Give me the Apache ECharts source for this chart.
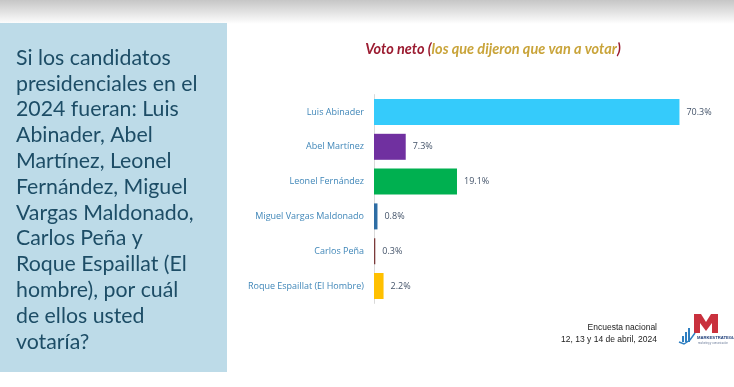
<!DOCTYPE html>
<html>
<head>
<meta charset="utf-8">
<script src="https://cdn.jsdelivr.net/npm/echarts@6/dist/echarts.min.js"></script>
<style>
html,body{margin:0;padding:0;background:#fff;}
#chart{width:734px;height:387px;}
</style>
</head>
<body>
<div id="chart"></div>
<script>
var categories = ['Luis Abinader','Abel Martínez','Leonel Fernández','Miguel Vargas Maldonado','Carlos Peña','Roque Espaillat (El Hombre)'];
var values = [70.3, 7.3, 19.1, 0.8, 0.3, 2.2];
var barColors = ['#35cbfb','#7030a0','#00b050','#2e6da4','#7b3b3b','#ffc000'];
var questionLines = ['Si los candidatos','presidenciales en el','2024 fueran: Luis','Abinader, Abel','Martínez, Leonel','Fernández, Miguel','Vargas Maldonado,','Carlos Peña y','Roque Espaillat (El','hombre), por cuál','de ellos usted','votaría?'];
var footerLines = ['Encuesta nacional','12, 13 y 14 de abril, 2024'];

var chart = echarts.init(document.getElementById('chart'), null, {renderer:'canvas'});

var graphics = [
  {type:'rect', shape:{x:0,y:0,width:734,height:24}, z:-1,
   style:{fill:new echarts.graphic.LinearGradient(0,0,0,1,[{offset:0,color:'#c6c6c6'},{offset:1,color:'#ffffff'}])}},
  {type:'rect', shape:{x:0,y:23,width:227,height:349}, style:{fill:'#bddbe8'}, z:-1},
  {type:'text', left:16, top:45, style:{
    text: questionLines.join('\n'), font:'21.3px Lato', fill:'#1d4d66', lineHeight:25.8}},
  {type:'text', x:657, y:328, style:{text:footerLines[0], font:'8.5px "Liberation Sans"', fill:'#222', textAlign:'right', textVerticalAlign:'middle'}},
  {type:'text', x:657, y:340, style:{text:footerLines[1], font:'8.5px "Liberation Sans"', fill:'#222', textAlign:'right', textVerticalAlign:'middle'}},
  // logo M
  {type:'polygon', shape:{points:[[694,314],[701,314],[706,322],[711,314],[718,314],[718,333],[712,333],[712,323],[706,331],[700,323],[700,333],[694,333]]}, style:{fill:'#c9313d'}},
  // logo bars
  {type:'rect', shape:{x:682,y:336,width:2,height:6}, style:{fill:'#2f7fc1'}},
  {type:'rect', shape:{x:685,y:332,width:2,height:10}, style:{fill:'#2f7fc1'}},
  {type:'rect', shape:{x:688,y:328,width:2,height:14}, style:{fill:'#2f7fc1'}},
  {type:'polyline', shape:{points:[[679,342],[684,344],[690,340],[695,333]]}, style:{stroke:'#2f7fc1', lineWidth:1.5, fill:null}},
  {type:'text', x:697, y:338, style:{text:'MARKESTRATEGIA', font:'bold 4.2px "Liberation Sans"', fill:'#1f3f7a', textVerticalAlign:'middle'}},
  {type:'text', x:698, y:343, style:{text:'marketing y comunicación', font:'2.6px "Liberation Sans"', fill:'#6b7b99', textVerticalAlign:'middle'}}
];

var option = {
  animation:false,
  backgroundColor:'#ffffff',
  title:{
    text:'{a|Voto neto }{p|(}{b|los que dijeron que van a votar}{p|)}',
    left:488, top:37, textAlign:'center',
    textStyle:{
      rich:{
        a:{fontFamily:'Lato', fontSize:14.5, fontWeight:'bold', fontStyle:'italic', color:'#9b1b30'},
        p:{fontFamily:'Lato', fontSize:14.5, fontWeight:'bold', fontStyle:'italic', color:'#9b1b30'},
        b:{fontFamily:'Lato', fontSize:14.5, fontWeight:'bold', fontStyle:'italic', color:'#c9a43a'}
      }
    }
  },
  grid:{left:374, top:94.6, width:347.6, height:208.8, containLabel:false},
  xAxis:{type:'value', min:0, max:80, show:false, splitLine:{show:false}},
  yAxis:{type:'category', data:categories, inverse:true,
    axisLine:{show:true, lineStyle:{color:'#d9d9d9', width:1}},
    axisTick:{show:false},
    axisLabel:{color:'#3f86b8', fontSize:9, fontFamily:'"Open Sans"', margin:10}
  },
  series:[{
    type:'bar', data:values.map(function(v,i){return {value:v, itemStyle:{color:barColors[i]}};}),
    barWidth:26,
    label:{show:true, position:'right', distance:7, formatter:function(p){return p.value.toFixed(1)+'%';},
      color:'#44546a', fontSize:9, fontFamily:'"Open Sans"'}
  }],
  graphic:graphics
};
chart.setOption(option);
</script>
</body>
</html>
